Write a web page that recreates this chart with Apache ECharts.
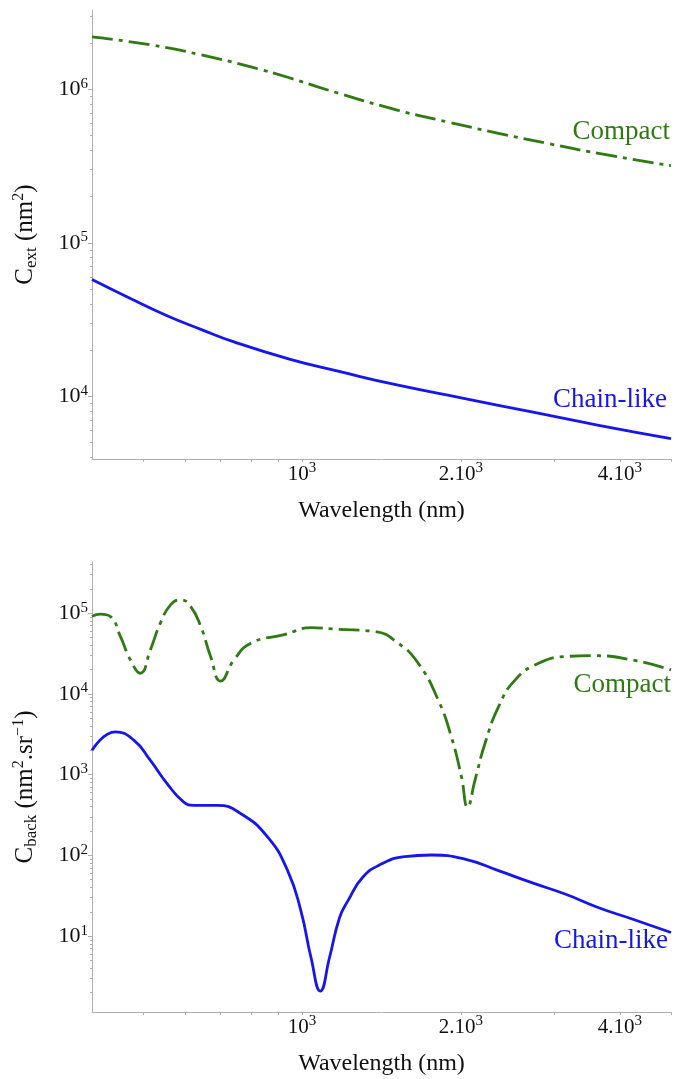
<!DOCTYPE html>
<html><head><meta charset="utf-8">
<script src="https://cdn.jsdelivr.net/npm/echarts@6/dist/echarts.min.js"></script>
<style>html,body{margin:0;padding:0;background:#fff}#c{width:674px;height:1079px}</style>
</head><body><div id="c"></div>
<script>
// ---------- data ----------
// Top panel: extinction cross-section C_ext (nm^2)
const extCompactWl = [400, 516, 643, 800, 946, 1119, 1521, 1892, 2356, 2931, 3648, 5000];
const extCompact   = [2.2e6, 1.95e6, 1.68e6, 1.40e6, 1.19e6, 0.99e6, 7.3e5, 6.12e5, 5.17e5, 4.43e5, 3.82e5, 3.18e5];
const extChainWl   = [400, 473, 555, 643, 743, 950, 1186, 1521, 2035, 2724, 3648, 5000];
const extChain     = [5.77e4, 4.34e4, 3.35e4, 2.73e4, 2.26e4, 1.74e4, 1.44e4, 1.18e4, 9.66e3, 7.9e3, 6.47e3, 5.3e3];

// Bottom panel: backscattering cross-section C_back (nm^2.sr^-1)
const backCompactWl = [400, 415, 433, 453, 473, 494, 516, 539, 564, 589, 615, 643, 671, 701, 743, 800, 925, 1040, 1169, 1372, 1521, 1660, 1811, 1919, 2005, 2058, 2126, 2221, 2356, 2532, 2806, 3159, 3540, 4222, 5000];
const backCompact   = [9.1e4, 9.7e4, 9.1e4, 5.1e4, 2.63e4, 1.8e4, 3.5e4, 7.5e4, 1.27e5, 1.46e5, 1.21e5, 6.8e4, 2.9e4, 1.44e4, 2.63e4, 4.24e4, 5.4e4, 6.6e4, 6.3e4, 5.9e4, 4.24e4, 2.39e4, 8.4e3, 2.9e3, 9.3e2, 3.96e2, 8.5e2, 2.43e3, 6.9e3, 1.48e4, 2.39e4, 2.9e4, 2.97e4, 2.63e4, 1.98e4];
const backChainWl   = [400, 443, 480, 516, 555, 597, 624, 691, 766, 861, 939, 995, 1040, 1083, 1127, 1178, 1222, 1303, 1413, 1565, 1758, 2035, 2356, 2724, 3159, 3648, 4222, 5000];
const backChain     = [2.0e3, 3.38e3, 2.67e3, 1.5e3, 773, 457, 416, 416, 328, 168, 64.7, 20.6, 5.4, 2.09, 5.4, 17, 27.5, 53.5, 78, 96.6, 101, 90, 64.7, 46, 33, 22.5, 16.3, 11.1];

// axes / ticks
const xTickValues = [1000, 2000, 4000];
const xTickLabels = ['10^3', '2.10^3', '4.10^3'];
const xMinorTicks = [500, 600, 700, 800, 900, 1000, 2000, 3000, 4000, 5000];
const yTopTickValues = [1e4, 1e5, 1e6];
const yTopTickLabels = ['10^4', '10^5', '10^6'];
const yBotTickValues = [1e1, 1e2, 1e3, 1e4, 1e5];
const yBotTickLabels = ['10^1', '10^2', '10^3', '10^4', '10^5'];
const yTopMinor = [4e3,5e3,6e3,7e3,8e3,9e3, 2e4,3e4,4e4,5e4,6e4,7e4,8e4,9e4, 2e5,3e5,4e5,5e5,6e5,7e5,8e5,9e5, 2e6,3e6];
const yBotMinor = [2,3,4,5,6,7,8,9, 20,30,40,50,60,70,80,90, 200,300,400,500,600,700,800,900, 2e3,3e3,4e3,5e3,6e3,7e3,8e3,9e3, 2e4,3e4,4e4,5e4,6e4,7e4,8e4,9e4, 2e5,3e5,4e5];

const seriesNames = ['Compact', 'Chain-like'];
const xName = 'Wavelength (nm)';

// ---------- styling ----------
const FONT = 'Liberation Serif';
const GREEN = '#2f7a12';
const BLUE = '#1515ee';
const GRAY = '#b0b0b0';
const TXT = '#111';

function zip(a, b) { return a.map((v, i) => [v, b[i]]); }
function rl(s) { const p = s.split('^'); return '{b|' + p[0] + '}' + (p[1] ? '{s|' + p[1] + '}' : ''); }
function fmt(vals, labels) {
  return function (v) {
    const i = vals.findIndex(t => Math.abs(t - v) / t < 1e-6);
    return i >= 0 ? rl(labels[i]) : '';
  };
}
function tickRich(size) {
  return {
    b: { fontFamily: FONT, fontSize: size, color: TXT, lineHeight: 26 },
    s: { fontFamily: FONT, fontSize: 15, color: TXT, lineHeight: 15, verticalAlign: 'top' }
  };
}
function nameRich(size) {
  return {
    b: { fontFamily: FONT, fontSize: size, color: TXT, lineHeight: size + 4 },
    sub: { fontFamily: FONT, fontSize: Math.round(size * 0.68), color: TXT, lineHeight: Math.round(size * 0.68), verticalAlign: 'bottom' },
    sup: { fontFamily: FONT, fontSize: Math.round(size * 0.64), color: TXT, lineHeight: Math.round(size * 0.64), verticalAlign: 'top' }
  };
}

function xAxisFor(grid) {
  return {
    type: 'log', logBase: 10, gridIndex: grid, min: 400, max: 5000,
    axisLine: { lineStyle: { color: GRAY, width: 1 } },
    axisTick: { customValues: xMinorTicks, length: 3, lineStyle: { color: GRAY } },
    axisLabel: { customValues: xTickValues, formatter: fmt(xTickValues, xTickLabels), rich: tickRich(21), margin: 2 },
    splitLine: { show: false },
    name: '{b|' + xName + '}', nameLocation: 'middle', nameGap: 38,
    nameTextStyle: { rich: nameRich(24) }
  };
}
function yAxisMajor(grid, min, max, vals, labels, nameStr) {
  return {
    type: 'log', logBase: 10, gridIndex: grid, min: min, max: max,
    axisLine: { show: true, lineStyle: { color: GRAY, width: 1 } },
    axisTick: { customValues: vals, length: 4, lineStyle: { color: GRAY } },
    axisLabel: { customValues: vals, formatter: fmt(vals, labels), rich: tickRich(22), margin: 4 },
    splitLine: { show: false },
    name: nameStr, nameLocation: 'middle', nameGap: 52,
    nameTextStyle: { rich: nameRich(25) }
  };
}
function yAxisMinor(grid, min, max, vals) {
  return {
    type: 'log', logBase: 10, gridIndex: grid, min: min, max: max, position: 'left',
    axisLine: { show: false },
    axisTick: { customValues: vals, length: 2, lineStyle: { color: GRAY } },
    axisLabel: { show: false }, splitLine: { show: false }
  };
}
const dashDot = [21, 6, 4, 6];
function line(name, x, y, xi, yi, color, type) {
  return {
    name: name, type: 'line', xAxisIndex: xi, yAxisIndex: yi,
    data: zip(x, y), showSymbol: false, smooth: 0.5, silent: true,
    lineStyle: { color: color, width: 2.8, type: type }
  };
}
function annot(text, right, y, color) {
  return { type: 'text', right: right, top: y, style: { text: text, fill: color, font: '27px "' + FONT + '"', textAlign: 'right' } };
}

const chart = echarts.init(document.getElementById('c'), null, { renderer: 'canvas' });
chart.setOption({
  animation: false,
  backgroundColor: '#fff',
  grid: [
    { left: 92, right: 3, top: 10, height: 449 },
    { left: 92, right: 3, top: 562, height: 450 }
  ],
  xAxis: [xAxisFor(0), xAxisFor(1)],
  yAxis: [
    yAxisMajor(0, 3900, 3.29e6, yTopTickValues, yTopTickLabels, '{b|C}{sub|ext}{b| (nm}{sup|2}{b|)}'),
    yAxisMajor(1, 1.15, 4.29e5, yBotTickValues, yBotTickLabels, '{b|C}{sub|back}{b| (nm}{sup|2}{b|.sr}{sup|−1}{b|)}'),
    yAxisMinor(0, 3900, 3.29e6, yTopMinor),
    yAxisMinor(1, 1.15, 4.29e5, yBotMinor)
  ],
  series: [
    line(seriesNames[0], extCompactWl, extCompact, 0, 0, GREEN, dashDot),
    line(seriesNames[1], extChainWl, extChain, 0, 0, BLUE, 'solid'),
    line(seriesNames[0], backCompactWl, backCompact, 1, 1, GREEN, dashDot),
    line(seriesNames[1], backChainWl, backChain, 1, 1, BLUE, 'solid')
  ],
  graphic: [
    annot(seriesNames[0], 4, 118, GREEN),
    annot(seriesNames[1], 7, 386, BLUE),
    annot(seriesNames[0], 3, 671, GREEN),
    annot(seriesNames[1], 6, 927, BLUE)
  ]
});
</script>
</body></html>
